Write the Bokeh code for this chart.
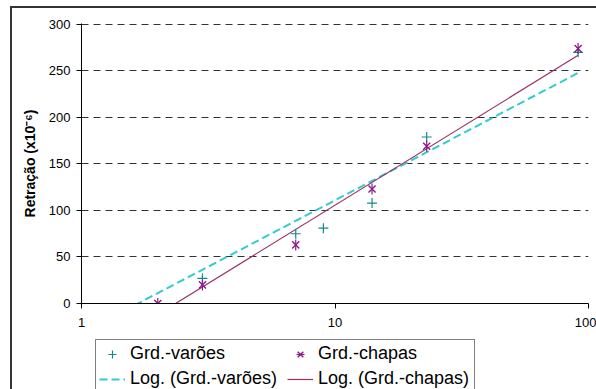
import numpy as np
from bokeh.plotting import figure
from bokeh.layouts import column
from bokeh.models import Legend, LegendItem, FixedTicker, NumeralTickFormatter
from bokeh.embed import file_html
from bokeh.resources import INLINE

# ---- data ----
varoes_x = [1, 3, 7, 9, 14, 23, 91]
varoes_y = [0, 27, 75, 81, 108, 179, 270]
chapas_x = [2, 3, 7, 14, 23, 91]
chapas_y = [0, 20, 63, 123, 169, 274]

x_ticks = [1, 10, 100]
y_ticks = [0, 50, 100, 150, 200, 250, 300]

legend_labels = ["Grd.-varões", "Log. (Grd.-varões)", "Grd.-chapas", "Log. (Grd.-chapas)"]
y_title = "Retração (x10⁻⁶)"


def log_fit(xs, ys):
    a, b = np.polyfit(np.log(np.array(xs, dtype=float)), np.array(ys, dtype=float), 1)
    xx = np.array([min(xs), max(xs)], dtype=float)
    return xx, a * np.log(xx) + b


FONT = "Liberation Sans"
C_V = "#138a8a"
C_V_LINE = "#33cccc"
C_C = "#8b1a8b"
C_C_LINE = "#993366"

p = figure(width=584, height=329, x_axis_type="log", x_range=(1, 100), y_range=(0, 301),
           output_backend="svg", toolbar_location=None,
           min_border_left=69, min_border_right=8, min_border_top=15, min_border_bottom=34)
p.outline_line_color = None
p.background_fill_color = "white"
p.border_fill_color = "white"

# grid
p.xgrid.visible = False
p.ygrid.grid_line_color = "#333333"
p.ygrid.grid_line_dash = "7 5"
p.ygrid.grid_line_width = 1

# axes
p.yaxis.ticker = FixedTicker(ticks=y_ticks)
p.xaxis.ticker = FixedTicker(ticks=x_ticks, minor_ticks=[])
p.xaxis.formatter = NumeralTickFormatter(format="0")
for ax in (p.xaxis, p.yaxis):
    ax.axis_line_color = "black"
    ax.axis_line_width = 1
    ax.major_tick_line_color = "black"
    ax.major_tick_out = 5
    ax.major_tick_in = 0
    ax.minor_tick_out = 0
    ax.minor_tick_in = 0
    ax.major_label_text_font = FONT
    ax.major_label_text_font_size = "13px"
    ax.major_label_text_color = "black"
p.yaxis.major_label_standoff = 6
p.xaxis.major_label_standoff = 9
p.yaxis.axis_label = y_title
p.yaxis.axis_label_text_font = FONT
p.yaxis.axis_label_text_font_size = "14px"
p.yaxis.axis_label_text_font_style = "bold"
p.yaxis.axis_label_text_color = "black"
p.yaxis.axis_label_standoff = 8

# trend lines
vx, vy = log_fit(varoes_x, varoes_y)
cx, cy = log_fit(chapas_x, chapas_y)
p.line(vx, vy, line_color=C_V_LINE, line_width=2, line_dash="8 4")
p.line(cx, cy, line_color=C_C_LINE, line_width=1.2)

# markers
p.scatter(varoes_x, varoes_y, marker="cross", size=10, line_color=C_V, line_width=1.2)
p.scatter(chapas_x, chapas_y, marker="x", size=10, line_color=C_C, line_width=1.4)
p.scatter(chapas_x, chapas_y, marker="dash", angle=np.pi / 2, size=11,
          line_color=C_C, line_width=1.2)

# ---- legend strip below the chart (its glyph renderers lie outside its ranges) ----
lg = figure(width=584, height=52, x_range=(-2, -1), y_range=(-2, -1),
            output_backend="svg", toolbar_location=None,
            x_axis_location=None, y_axis_location=None,
            min_border=0, min_border_left=0, min_border_right=0,
            min_border_top=0, min_border_bottom=0)
lg.outline_line_color = None
lg.xgrid.visible = False
lg.ygrid.visible = False
lg.background_fill_color = "white"
lg.border_fill_color = "white"

k_v = lg.scatter(varoes_x, varoes_y, marker="cross", size=10, line_color=C_V, line_width=1.2)
k_c = lg.scatter(chapas_x, chapas_y, marker="x", size=10, line_color=C_C, line_width=1.4)
k_c2 = lg.scatter(chapas_x, chapas_y, marker="dash", angle=np.pi / 2, size=11,
                  line_color=C_C, line_width=1.2)
k_lv = lg.line(vx, vy, line_color=C_V_LINE, line_width=2, line_dash="8 4")
k_lc = lg.line(cx, cy, line_color=C_C_LINE, line_width=1.2)

legend = Legend(items=[
    LegendItem(label=legend_labels[0], renderers=[k_v]),
    LegendItem(label=legend_labels[2], renderers=[k_c, k_c2]),
    LegendItem(label=legend_labels[1], renderers=[k_lv]),
    LegendItem(label=legend_labels[3], renderers=[k_lc]),
], ncols=2, orientation="horizontal")
legend.label_text_font = FONT
legend.label_text_font_size = "18px"
legend.label_text_color = "black"
legend.border_line_color = "black"
legend.border_line_width = 1
legend.background_fill_color = "white"
legend.padding = 3
legend.spacing = 4
legend.margin = 0
legend.glyph_width = 26
legend.glyph_height = 20
legend.label_height = 20
legend.label_width = 153
legend.label_standoff = 5
legend.location = (14, -4)
lg.add_layout(legend, "center")

layout = column(p, lg, spacing=0)
layout.styles = {"margin-left": "10px", "margin-top": "6px",
                 "border-left": "2px solid #333333", "border-top": "2px solid #333333"}

open("out.html", "w").write(file_html(layout, INLINE))
